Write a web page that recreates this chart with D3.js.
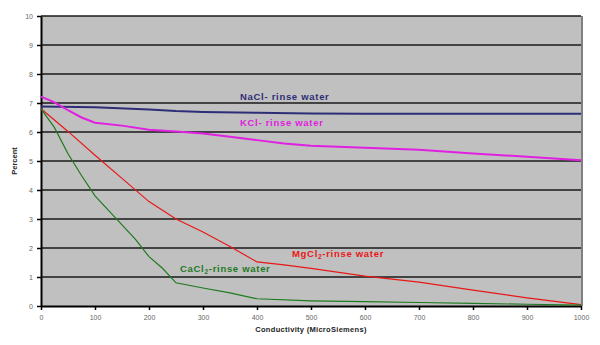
<!DOCTYPE html>
<html><head><meta charset="utf-8">
<script src="https://cdn.jsdelivr.net/npm/d3@7"></script>
<style>body{margin:0;background:#fff}svg{display:block}</style>
</head><body>
<svg id="c" width="600" height="345"></svg>
<script>
const xTicks = [0,100,200,300,400,500,600,700,800,900,1000];
const yTicks = [0,1,2,3,4,5,6,7,8,9,10];
const naclX = [0,100,200,250,300,400,500,600,700,800,900,1000];
const naclY = [6.88,6.85,6.78,6.72,6.69,6.66,6.64,6.63,6.63,6.63,6.63,6.63];
const kclX = [0,25,50,75,100,150,200,250,300,350,400,450,500,600,700,800,900,1000];
const kclY = [7.22,7.02,6.75,6.5,6.32,6.22,6.08,6.02,5.95,5.84,5.72,5.6,5.53,5.46,5.39,5.26,5.15,5.03];
const mgX = [0,50,100,150,200,250,300,350,400,450,500,600,700,800,900,1000];
const mgY = [6.8,6.02,5.2,4.4,3.6,3.0,2.55,2.05,1.52,1.42,1.3,1.03,0.82,0.55,0.28,0.05];
const caX = [0,25,50,75,100,125,150,175,200,225,250,300,350,400,500,600,700,800,900,1000];
const caY = [6.8,6.15,5.25,4.5,3.8,3.3,2.8,2.3,1.7,1.3,0.8,0.62,0.45,0.25,0.18,0.15,0.12,0.09,0.06,0.03];
const seriesNames = ["NaCl- rinse water","KCl- rinse water","MgCl","CaCl"];
const xTitle = "Conductivity (MicroSiemens)";
const yTitle = "Percent";

const svg = d3.select("#c");
const x = d3.scaleLinear().domain([0,1000]).range([41,581]);
const y = d3.scaleLinear().domain([0,10]).range([306,16]);

svg.append("rect").attr("x",41).attr("y",16).attr("width",540).attr("height",290).attr("fill","#c0c0c0");
svg.append("line").attr("x1",582).attr("x2",582).attr("y1",16).attr("y2",306).attr("stroke","#808080").attr("stroke-width",2);

// grid
svg.append("g").selectAll("line").data(yTicks.filter(d=>d>0)).join("line")
  .attr("x1",41).attr("x2",581).attr("y1",d=>y(d)).attr("y2",d=>y(d))
  .attr("stroke","#1a1a1a").attr("stroke-width",1.6);

// axes
const yAxis = d3.axisLeft(y).tickValues(yTicks).tickSize(4).tickSizeOuter(0).tickFormat(d3.format("d"));
const gy = svg.append("g").attr("transform","translate(41,0)").call(yAxis);
const xAxis = d3.axisBottom(x).tickValues(xTicks).tickSize(4).tickSizeOuter(0).tickFormat(d3.format("d"));
const gx = svg.append("g").attr("transform","translate(0,306)").call(xAxis);
[gy,gx].forEach(g=>{
  g.select(".domain").attr("stroke","#000").attr("stroke-width",2);
  g.selectAll(".tick line").attr("stroke","#000").attr("stroke-width",1.5);
  g.selectAll("text").attr("font-family","Liberation Sans, Arial, sans-serif").attr("font-size",7).attr("fill","#666");
});
gy.selectAll("text").attr("x",-8);
gx.selectAll("text").attr("y",9);

const line = d3.line().x(d=>x(d[0])).y(d=>y(d[1]));
function draw(xs, ys, color, w){
  svg.append("path").datum(xs.map((v,i)=>[v,ys[i]])).attr("d",line)
    .attr("fill","none").attr("stroke",color).attr("stroke-width",w);
}
draw(naclX,naclY,"#2e2e78",2);
draw(kclX,kclY,"#e020e0",2);
draw(mgX,mgY,"#e81818",1.2);
draw(caX,caY,"#1e7a1e",1.2);

const font = "Liberation Sans, Arial, sans-serif";
function label(txt, sub, rest, px, py, color){
  const t = svg.append("text").attr("x",px).attr("y",py).attr("fill",color)
    .attr("font-family",font).attr("font-size",9.5).attr("font-weight","bold").attr("letter-spacing",0.7);
  t.append("tspan").text(txt);
  if(sub){
    t.append("tspan").attr("font-size",6.5).attr("dy",2).text(sub);
    t.append("tspan").attr("dy",-2).text(rest);
  }
}
label(seriesNames[0],null,null,240,100,"#2e2e78");
label(seriesNames[1],null,null,240,126,"#e020e0");
label(seriesNames[2],"2","-rinse water",292,257,"#e81818");
label(seriesNames[3],"2","-rinse water",180,272,"#1e7a1e");

svg.append("text").attr("x",311).attr("y",332).attr("text-anchor","middle").attr("letter-spacing",0.3)
  .attr("font-family",font).attr("font-size",7.5).attr("font-weight","bold").attr("fill","#222").text(xTitle);
svg.append("text").attr("transform","translate(17,161) rotate(-90)").attr("text-anchor","middle")
  .attr("font-family",font).attr("font-size",7.5).attr("font-weight","bold").attr("fill","#222").text(yTitle);
</script>
</body></html>
